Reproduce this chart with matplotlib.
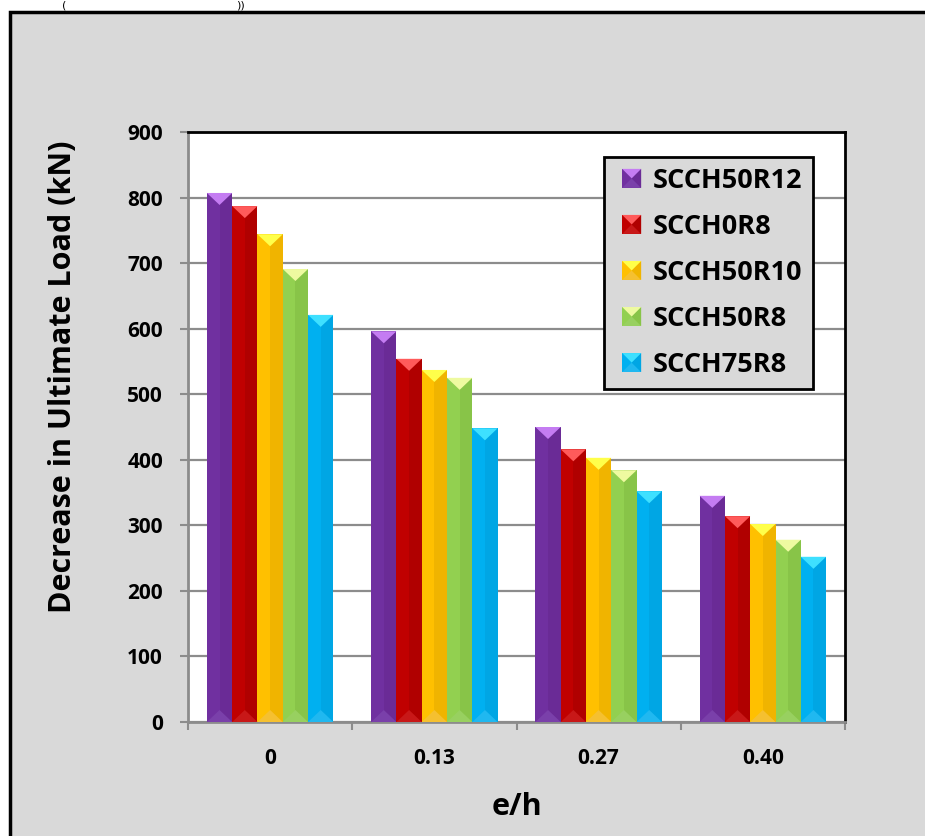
import matplotlib
matplotlib.use("Agg")
import matplotlib.pyplot as plt
from matplotlib.patches import Rectangle, Polygon
from matplotlib.legend_handler import HandlerBase
import numpy as np

categories = ["0", "0.13", "0.27", "0.40"]
series_names = ["SCCH50R12", "SCCH0R8", "SCCH50R10", "SCCH50R8", "SCCH75R8"]
SCCH50R12 = [807, 596, 450, 345]
SCCH0R8 = [787, 554, 416, 314]
SCCH50R10 = [744, 537, 403, 302]
SCCH50R8 = [691, 525, 384, 278]
SCCH75R8 = [621, 448, 352, 252]
series_values = [SCCH50R12, SCCH0R8, SCCH50R10, SCCH50R8, SCCH75R8]

base_colors = ["#7030a0", "#c00000", "#ffc000", "#92d050", "#00b0f0"]
dark_colors = ["#6a2b96", "#b00000", "#f0b400", "#88c448", "#00a6e4"]
top_colors = ["#c47cf2", "#ff5a5a", "#ffff4a", "#eefaa0", "#3ee0ff"]
bot_colors = ["#7a40aa", "#c81818", "#f5c030", "#98d060", "#20b8f0"]

BG = "#d9d9d9"
W, H = 925, 836
fig = plt.figure(figsize=(W / 100, H / 100), dpi=100)
fig.patch.set_facecolor("white")

# grey framed background
fig.patches.append(Rectangle((10 / W, -0.01), 1.02, (836 - 12) / H + 0.01,
                             transform=fig.transFigure, facecolor=BG,
                             edgecolor="black", linewidth=2.5, zorder=0))
fig.text(62 / W, 1.0, "(", fontsize=8, ha="left", va="top", color="black")
fig.text(236 / W, 1.0, "))", fontsize=8, ha="left", va="top", color="black")

ax = fig.add_axes([188 / W, 1 - 722 / H, (845 - 188) / W, (722 - 132) / H])
ax.set_zorder(2)
ax.set_facecolor("white")
ax.set_xlim(0, len(categories))
ax.set_ylim(0, 900)

n = len(series_names)
group_w = 0.77
bw = group_w / n
px_per_unit = (722 - 132) / 900.0
bevel = 12 / px_per_unit

for i in range(n):
    for j, v in enumerate(series_values[i]):
        x0 = j + (1 - group_w) / 2 + i * bw
        x1 = x0 + bw
        xc = (x0 + x1) / 2
        ax.add_patch(Rectangle((x0, 0), xc - x0, v, facecolor=base_colors[i],
                               edgecolor="none", zorder=3))
        ax.add_patch(Rectangle((xc, 0), x1 - xc, v, facecolor=dark_colors[i],
                               edgecolor="none", zorder=3))
        ax.add_patch(Polygon([(x0, v), (x1, v), (xc, v - bevel)], closed=True,
                             facecolor=top_colors[i], edgecolor="none", zorder=4))
        ax.add_patch(Polygon([(x0, 0), (x1, 0), (xc, bevel)], closed=True,
                             facecolor=bot_colors[i], edgecolor="none", zorder=4))

ax.set_yticks(np.arange(0, 901, 100))
ax.yaxis.grid(True, color="#8c8c8c", linewidth=1.6, zorder=1)
ax.set_axisbelow(True)
ax.set_xticks(np.arange(0, len(categories) + 1))
ax.set_xticklabels([])
ax.set_xticks(np.arange(len(categories)) + 0.5, minor=True)
ax.set_xticklabels(categories, minor=True)
ax.tick_params(axis="x", which="major", length=6, color="#8c8c8c", width=1.5)
ax.tick_params(axis="x", which="minor", length=0, pad=19)
ax.tick_params(axis="y", length=6, color="#8c8c8c", width=1.5, pad=12)

fam = ["Open Sans", "DejaVu Sans"]
for lab in ax.get_xticklabels(minor=True) + ax.get_yticklabels():
    lab.set_fontfamily(fam)
    lab.set_fontweight("bold")
    lab.set_fontsize(15)

for s in ax.spines.values():
    s.set_color("black")
    s.set_linewidth(2)
ax.spines["bottom"].set_color("#8c8c8c")
ax.spines["left"].set_color("#8c8c8c")

ax.set_xlabel("e/h", fontsize=22, fontweight="bold", family=fam, labelpad=16)
fig.text(63 / W, 1 - 377 / H, "Decrease in Ultimate Load (kN)", fontsize=22,
         fontweight="bold", family=fam, rotation=90, ha="center", va="center")


class BevelHandler(HandlerBase):
    def create_artists(self, legend, orig, xd, yd, width, height, fontsize, trans):
        i = orig.idx
        s = min(width, height) * 1.0
        x0 = -xd + (width - s) / 2
        y0 = -yd + (height - s) / 2
        arts = [Rectangle((x0, y0), s, s, facecolor=base_colors[i], edgecolor="none", transform=trans),
                Polygon([(x0, y0), (x0 + s, y0), (x0 + s / 2, y0 + s / 2)],
                        closed=True, facecolor=bot_colors[i], edgecolor="none", transform=trans),
                Polygon([(x0 + s / 2, y0 + s / 2), (x0 + s, y0), (x0 + s, y0 + s)],
                        closed=True, facecolor=dark_colors[i], edgecolor="none", transform=trans),
                Polygon([(x0, y0 + s), (x0 + s, y0 + s), (x0 + s / 2, y0 + s / 2)],
                        closed=True, facecolor=top_colors[i], edgecolor="none", transform=trans)]
        return arts


class Dummy:
    def __init__(self, idx):
        self.idx = idx


handles = [Dummy(i) for i in range(n)]
leg = ax.legend(handles, series_names, handler_map={Dummy: BevelHandler()},
                loc="upper right", bbox_to_anchor=((813 - 188) / 657, (722 - 157) / 590),
                borderaxespad=0,
                prop={"family": fam, "weight": "bold", "size": 19.5},
                frameon=True, fancybox=False, facecolor=BG, edgecolor="black",
                framealpha=1, labelspacing=0.74, handlelength=1.25, handleheight=0.7,
                handletextpad=0.15, borderpad=0.4)
leg.get_frame().set_linewidth(2)
leg.set_zorder(10)

fig.savefig("out.png", dpi=100, facecolor=fig.get_facecolor())
